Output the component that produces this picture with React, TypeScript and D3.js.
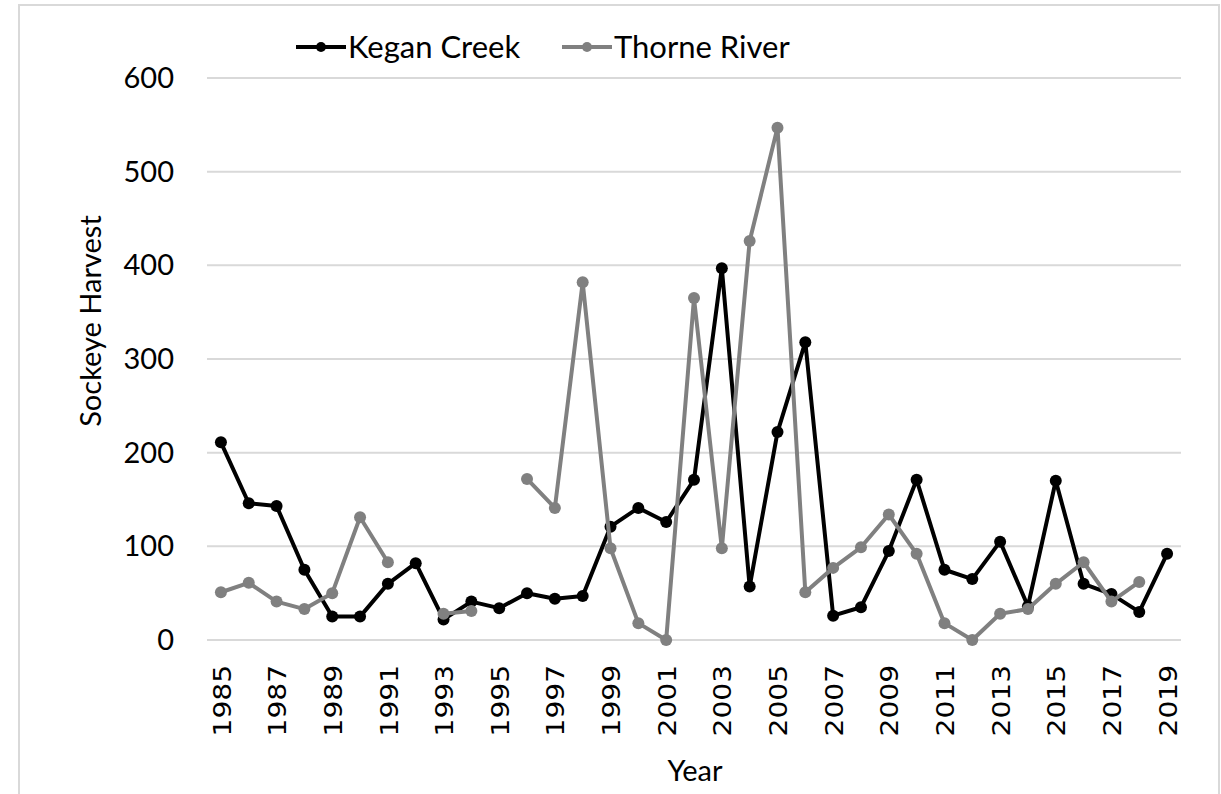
import React from "react";
import * as d3 from "d3";

const years: number[] = d3.range(1985, 2020);
const keganCreek: (number | null)[] = [
  211, 146, 143, 75, 25, 25, 60, 82, 22, 41,
  34, 50, 44, 47, 121, 141, 126, 171, 397, 57,
  222, 318, 26, 35, 95, 171, 75, 65, 105, 36,
  170, 60, 49, 30, 92,
];
const thorneRiver: (number | null)[] = [
  51, 61, 41, 33, 50, 131, 83, null, 28, 31,
  null, 172, 141, 382, 98, 18, 0, 365, 98, 426,
  547, 51, 77, 99, 134, 92, 18, 0, 28, 33,
  60, 83, 41, 62, null,
];
const yTicks: number[] = [0, 100, 200, 300, 400, 500, 600];
const xTickLabels: number[] = years.filter((y) => (y - 1985) % 2 === 0);
const seriesNames = ["Kegan Creek", "Thorne River"];

const W = 1221;
const H = 794;
const FONT = "Lato, 'Open Sans', sans-serif";

export default function App() {
  const x = d3.scalePoint<number>().domain(years).range([207, 1181]).padding(0.5);
  const y = d3.scaleLinear().domain([0, 600]).range([640, 78]);

  const series = [
    { name: seriesNames[0], values: keganCreek, color: "#000000" },
    { name: seriesNames[1], values: thorneRiver, color: "#808080" },
  ];

  const line = d3
    .line<[number, number | null]>()
    .defined((d) => d[1] !== null)
    .x((d) => x(d[0]) as number)
    .y((d) => y(d[1] as number));

  return (
    <div style={{ position: "absolute", left: 0, top: 0 }}>
      <svg width={W} height={H} style={{ display: "block" }}>
        <rect x={0} y={0} width={W} height={H} fill="#fff" />
        <rect x={19} y={5} width={1200} height={820} fill="none" stroke="#d9d9d9" strokeWidth={2} />
        {yTicks.map((t) => (
          <g key={t}>
            <line x1={207} x2={1181} y1={y(t)} y2={y(t)} stroke="#d9d9d9" strokeWidth={2} />
            <text
              x={174}
              y={y(t)}
              dy="0.35em"
              textAnchor="end"
              fontFamily={FONT}
              fontSize={29}
              fill="#000"
            >
              {t}
            </text>
          </g>
        ))}
        {xTickLabels.map((yr) => (
          <text
            key={yr}
            transform={`translate(${(x(yr) as number) + 1},665) rotate(-90) scale(1.17,1)`}
            textAnchor="end"
            dy="0.36em"
            fontFamily="'DejaVu Sans', sans-serif"
            fontSize={24}
            fill="#000"
          >
            {yr}
          </text>
        ))}
        <text
          x={695}
          y={781}
          textAnchor="middle"
          fontFamily={FONT}
          fontSize={29}
          fill="#000"
        >
          Year
        </text>
        <text
          transform={`translate(101,321) rotate(-90)`}
          textAnchor="middle"
          fontFamily={FONT}
          fontSize={29}
          fill="#000"
        >
          Sockeye Harvest
        </text>
        {series.map((s) => {
          const pts: [number, number | null][] = years.map((yr, i) => [yr, s.values[i]]);
          return (
            <g key={s.name}>
              <path d={line(pts) || ""} fill="none" stroke={s.color} strokeWidth={4} strokeLinejoin="round" />
              {pts
                .filter((p) => p[1] !== null)
                .map((p) => (
                  <circle key={p[0]} cx={x(p[0])} cy={y(p[1] as number)} r={6} fill={s.color} />
                ))}
            </g>
          );
        })}
        {series.map((s, i) => {
          const lx = i === 0 ? 296 : 562;
          return (
            <g key={"lg" + s.name}>
              <line x1={lx} x2={lx + 50} y1={47} y2={47} stroke={s.color} strokeWidth={4} />
              <circle cx={lx + 25} cy={47} r={5} fill={s.color} />
              <text
                x={lx + 52}
                y={47}
                dy="0.35em"
                fontFamily={FONT}
                fontSize={31}
                fill="#000"
              >
                {s.name}
              </text>
            </g>
          );
        })}
      </svg>
    </div>
  );
}
